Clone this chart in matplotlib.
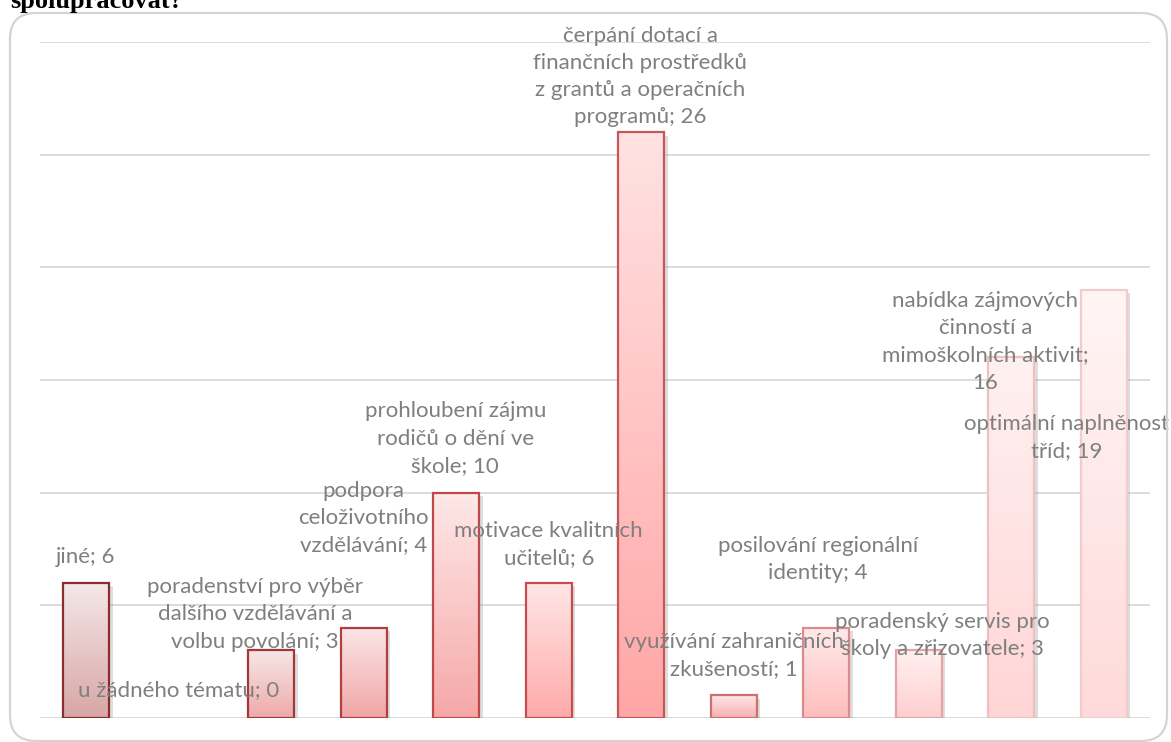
import numpy as np
import matplotlib
matplotlib.use("Agg")
import matplotlib.pyplot as plt
from matplotlib.patches import FancyBboxPatch
from matplotlib.colors import to_rgb
from matplotlib.transforms import IdentityTransform
import matplotlib.patheffects as pe

# ---- data ----
categories = [
    "jiné",
    "u žádného tématu",
    "poradenství pro výběr\ndalšího vzdělávání a\nvolbu povolání",
    "podpora\nceloživotního\nvzdělávání",
    "prohloubení zájmu\nrodičů o dění ve\nškole",
    "motivace kvalitních\nučitelů",
    "čerpání dotací a\nfinančních prostředků\nz grantů a operačních\nprogramů",
    "využívání zahraničních\nzkušeností",
    "posilování regionální\nidentity",
    "poradenský servis pro\nškoly a zřizovatele",
    "nabídka zájmových\nčinností a\nmimoškolních aktivit;\n",
    "optimální naplněnost\ntříd",
]
values = [6, 0, 3, 4, 10, 6, 26, 1, 4, 3, 16, 19]
title_text = "spolupracovat?"

# ---- styles ----
edge_colors = ["#8c2d2d", "#992f2f", "#a33838", "#b04040", "#bf4848", "#c54d4d",
               "#c85656", "#cf7070", "#dd8a8a", "#e6a3a3", "#efc0c0", "#f0cccc"]
top_colors = ["#f5e8e8", "#f5e3e3", "#f7e6e6", "#fbe6e6", "#ffe8e8", "#ffe6e6",
              "#ffe2e2", "#ffe6e6", "#ffeaea", "#fff0f0", "#fff1f1", "#fff5f5"]
bot_colors = ["#d8a6a6", "#e4a8a8", "#eeaaaa", "#f0a6a6", "#f5a8a8", "#ffaaaa",
              "#ffa6a6", "#f8b0b0", "#ffbdbd", "#ffcfcf", "#ffd5d5", "#ffdada"]
# label offsets (pixels) of label-block centre relative to bar top
label_offsets = [(-1, 26), (0, 28), (-16, 36), (0, 110), (-1, 54), (0, 38.5),
                 (-1, 55.5), (0, 40), (-8, 68.5), (24, 15), (-26, 15.5), (-37, -147.5)]

W, H = 1171, 742
fig = plt.figure(figsize=(W / 100, H / 100), dpi=100)
fig.patch.set_facecolor("white")

# rounded border (pixel coordinates, origin bottom-left)
border = FancyBboxPatch((10, 1), 1157, H - 13 - 1,
                        boxstyle="round,pad=0,rounding_size=26",
                        transform=IdentityTransform(), fill=False,
                        edgecolor="#d4d4d4", linewidth=1.6)
fig.patches.append(border)

fig.text(10 / W, 1 - 8 / H, title_text, fontsize=19, fontweight="bold",
         family="Liberation Serif", ha="left", va="baseline", color="black")

ax = fig.add_axes([40 / W, 24 / H, 1110 / W, 676 / H])
ax.set_facecolor("none")
x = np.arange(len(values))

# soft shadows
shadow = ax.bar(x, values, width=0.5, facecolor="none", edgecolor="none", zorder=1.9)
for s in shadow:
    if s.get_height() > 0:
        s.set_path_effects([pe.SimplePatchShadow(offset=(2.5, -2.5), alpha=0.28,
                                                 shadow_rgbFace="#8a8a8a")])
    else:
        s.set_visible(False)

bars = ax.bar(x, values, width=0.5, facecolor="none", zorder=3, linewidth=1.6)

for i, b in enumerate(bars):
    b.set_edgecolor(edge_colors[i])
    x0, y0 = b.get_x(), b.get_y()
    w, h = b.get_width(), b.get_height()
    if h <= 0:
        b.set_visible(False)
        continue
    c0 = np.array(to_rgb(bot_colors[i]))
    c1 = np.array(to_rgb(top_colors[i]))
    t = np.linspace(0, 1, 100)[:, None]
    grad = (c0 * (1 - t) + c1 * t)[:, None, :]
    im = ax.imshow(grad, extent=[x0, x0 + w, y0, y0 + h], origin="lower",
                   aspect="auto", zorder=2, interpolation="bilinear")
    im.set_clip_path(b)

ax.set_xlim(-0.5, len(values) - 0.5)
ax.set_ylim(0, 30)
ax.set_yticks(np.arange(0, 31, 5))
ax.yaxis.grid(True, color="#d9d9d9", linewidth=1.3, zorder=0)
ax.set_axisbelow(True)
ax.tick_params(left=False, bottom=False, labelleft=False, labelbottom=False)
for s in ax.spines.values():
    s.set_visible(False)

for i, (cat, v) in enumerate(zip(categories, values)):
    if cat.endswith(";\n"):
        txt = cat + f"{v}"
    else:
        txt = f"{cat}; {v}"
    dx, dy = label_offsets[i]
    ax.annotate(txt, xy=(x[i], v), xytext=(dx, dy), textcoords="offset pixels",
                ha="center", va="center", multialignment="center",
                fontsize=16, family="Lato", color="#7f7f7f",
                linespacing=1.45, zorder=5, annotation_clip=False)

fig.savefig("out.png", dpi=100, facecolor="white")
